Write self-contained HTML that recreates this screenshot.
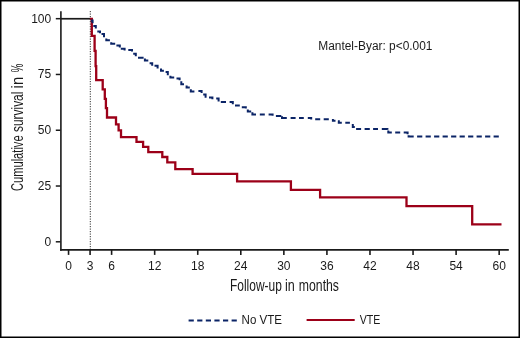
<!DOCTYPE html>
<html><head><meta charset="utf-8"><style>
html,body{margin:0;padding:0;background:#fff;}
svg{display:block;will-change:transform;}
.t{font-family:"Liberation Sans",sans-serif;font-size:12px;fill:#1a1a1a;}
.c{font-family:"Liberation Sans",sans-serif;font-size:15.6px;fill:#1a1a1a;}
.l{font-family:"Liberation Sans",sans-serif;font-size:12px;fill:#1a1a1a;}
</style></head><body>
<svg width="520" height="338" viewBox="0 0 520 338">
<rect x="0.75" y="0.75" width="518.5" height="336.5" fill="#fff" stroke="#000" stroke-width="1.5"/>
<line x1="60.9" y1="11.2" x2="60.9" y2="250.7" stroke="#1a1a1a" stroke-width="1.6"/>
<line x1="60.1" y1="249.8" x2="508.8" y2="249.8" stroke="#1a1a1a" stroke-width="1.8"/>
<line x1="55.8" y1="18.68" x2="60.5" y2="18.68" stroke="#1a1a1a" stroke-width="1.5"/>
<text x="51.2" y="22.58" text-anchor="end" class="t">100</text>
<line x1="55.8" y1="74.46" x2="60.5" y2="74.46" stroke="#1a1a1a" stroke-width="1.5"/>
<text x="51.2" y="78.36" text-anchor="end" class="t">75</text>
<line x1="55.8" y1="130.24" x2="60.5" y2="130.24" stroke="#1a1a1a" stroke-width="1.5"/>
<text x="51.2" y="134.14" text-anchor="end" class="t">50</text>
<line x1="55.8" y1="186.02" x2="60.5" y2="186.02" stroke="#1a1a1a" stroke-width="1.5"/>
<text x="51.2" y="189.92" text-anchor="end" class="t">25</text>
<line x1="55.8" y1="241.80" x2="60.5" y2="241.80" stroke="#1a1a1a" stroke-width="1.5"/>
<text x="51.2" y="245.70" text-anchor="end" class="t">0</text>
<line x1="68.55" y1="249.8" x2="68.55" y2="254.9" stroke="#1a1a1a" stroke-width="1.6"/>
<text x="68.55" y="269.8" text-anchor="middle" class="t">0</text>
<line x1="90.08" y1="249.8" x2="90.08" y2="254.9" stroke="#1a1a1a" stroke-width="1.6"/>
<text x="90.08" y="269.8" text-anchor="middle" class="t">3</text>
<line x1="111.61" y1="249.8" x2="111.61" y2="254.9" stroke="#1a1a1a" stroke-width="1.6"/>
<text x="111.61" y="269.8" text-anchor="middle" class="t">6</text>
<line x1="154.67" y1="249.8" x2="154.67" y2="254.9" stroke="#1a1a1a" stroke-width="1.6"/>
<text x="154.67" y="269.8" text-anchor="middle" class="t">12</text>
<line x1="197.74" y1="249.8" x2="197.74" y2="254.9" stroke="#1a1a1a" stroke-width="1.6"/>
<text x="197.74" y="269.8" text-anchor="middle" class="t">18</text>
<line x1="240.80" y1="249.8" x2="240.80" y2="254.9" stroke="#1a1a1a" stroke-width="1.6"/>
<text x="240.80" y="269.8" text-anchor="middle" class="t">24</text>
<line x1="283.86" y1="249.8" x2="283.86" y2="254.9" stroke="#1a1a1a" stroke-width="1.6"/>
<text x="283.86" y="269.8" text-anchor="middle" class="t">30</text>
<line x1="326.92" y1="249.8" x2="326.92" y2="254.9" stroke="#1a1a1a" stroke-width="1.6"/>
<text x="326.92" y="269.8" text-anchor="middle" class="t">36</text>
<line x1="369.98" y1="249.8" x2="369.98" y2="254.9" stroke="#1a1a1a" stroke-width="1.6"/>
<text x="369.98" y="269.8" text-anchor="middle" class="t">42</text>
<line x1="413.05" y1="249.8" x2="413.05" y2="254.9" stroke="#1a1a1a" stroke-width="1.6"/>
<text x="413.05" y="269.8" text-anchor="middle" class="t">48</text>
<line x1="456.11" y1="249.8" x2="456.11" y2="254.9" stroke="#1a1a1a" stroke-width="1.6"/>
<text x="456.11" y="269.8" text-anchor="middle" class="t">54</text>
<line x1="499.17" y1="249.8" x2="499.17" y2="254.9" stroke="#1a1a1a" stroke-width="1.6"/>
<text x="499.17" y="269.8" text-anchor="middle" class="t">60</text>
<line x1="90.3" y1="11" x2="90.3" y2="249" stroke="#333" stroke-width="1" stroke-dasharray="1.2 1.3"/>
<line x1="60.5" y1="18.75" x2="90" y2="18.75" stroke="#1a1a1a" stroke-width="1.7"/>
<path d="M89.6 18.7 H91.5 V35.5 H94.3 V50.5 H95.3 V65.9 H95.9 V79.8 H102.4 V89.1 H104.5 V98.5 H105.6 V107.8 H106.7 V117.2 H115.7 V124.1 H118.3 V130.1 H120.7 V136.9 H136.2 V141.6 H142.8 V146.5 H148.0 V151.8 H162.0 V156.7 H167.0 V162.1 H175.0 V168.8 H192.3 V173.6 H236.8 V181.0 H290.6 V189.6 H319.8 V197.1 H406.2 V205.9 H471.9 V224.1 H501.2" fill="none" stroke="#9c0018" stroke-width="2.3" transform="translate(0.3 0.3)"/>
<path d="M90.9 20.4 H92.6 V23.2 M93.3 26 H95.8 V28.6 M97.3 31.6 H100 V33.3 M101.5 33.9 H104 V37.2 M106.3 38.6 V40.3 H109.9 M111.2 42.2 V43.8 H115.2 M116.4 45.6 H119.8 V47.5 M120.8 48.7 H124.6 V50.4 M128.3 50 H132 V51.6 M133.2 53.8 H135.8 V56.2 M138 57.8 H142.6 V58.8 M144.9 58.5 V60.6 H148.3 M149.6 63.2 H152.2 V65.8 M154.5 65.8 H157.6 V68.6 M161 68.5 V70.8 H163.9 M165.6 72 H167.8 V75.2 M170.4 75.8 V77.4 H174.2 M176.5 78.4 H179.6 V80.3 M181.3 81.3 V84.3 H184 M186.6 85.4 V87.5 H189.8 M190.8 89.2 V91.5 H194.4 M198.4 91 H201.6 V93 M203.2 94.4 H205.6 V97.8 M209 97.6 H212.4 V99.2 M216.2 98.6 H218.6 V101.6 M220.8 101.9 H226 M229.6 101.9 H232.8 V104.2 M235 105.6 H239.8 M241.8 107.2 H245.8 V108.6 M247.8 109.4 V111.4 H251.2 M252.4 112.2 V114.5 H256 M259.8 114.6 H264.8 M268.6 114.6 H272.6 V115.8 M275.9 115.9 H281.3 M282 116.2 V118.1 H286.8 M290.6 118.1 H295.6 M299 118.1 H303.8 M307.8 118.1 H311.2 V119.4 M315.2 119.2 H320.2 M323.7 119.2 H328.8 M332.9 119.1 V120.7 H335.5 M337.9 121.2 H338.8 V122.7 H341.8 M345.3 122.8 H349.9 M352.8 124.1 V127 H354.8 M356.1 129.1 H361.1 M364.6 129.1 H369.8 M373.1 129.1 H378 M381.8 129.1 H387.4 V129.8 M388.3 130.6 V132.5 H391.8 M395.2 132.5 H400.2 M403.7 132.6 H407.6 V134.3 M408.6 135.2 V136.5 H413.7 M417.10 136.5 H422.30 M425.60 136.5 H430.80 M434.10 136.5 H439.30 M442.60 136.5 H447.80 M451.10 136.5 H456.30 M459.60 136.5 H464.80 M468.10 136.5 H473.30 M476.60 136.5 H481.80 M485.10 136.5 H490.30 M493.60 136.5 H498.80" fill="none" stroke="#0b2466" stroke-width="2"/>
<text x="318.25" y="50" class="t" textLength="114.25" lengthAdjust="spacingAndGlyphs">Mantel-Byar: p&lt;0.001</text>
<text x="230.00" y="290.6" class="c" textLength="51.80" lengthAdjust="spacingAndGlyphs">Follow-up</text>
<text x="285.00" y="290.6" class="c" textLength="9.80" lengthAdjust="spacingAndGlyphs">in</text>
<text x="298.80" y="290.6" class="c" textLength="40.20" lengthAdjust="spacingAndGlyphs">months</text>
<text transform="translate(22.6 191) rotate(-90)" x="0.00" y="0" class="c" textLength="55.60" lengthAdjust="spacingAndGlyphs">Cumulative</text>
<text transform="translate(22.6 191) rotate(-90)" x="59.00" y="0" class="c" textLength="40.40" lengthAdjust="spacingAndGlyphs">survival</text>
<text transform="translate(22.6 191) rotate(-90)" x="102.60" y="0" class="c" textLength="11.60" lengthAdjust="spacingAndGlyphs">in</text>
<text transform="translate(22.6 191) rotate(-90)" x="118.80" y="0" class="c" textLength="8.60" lengthAdjust="spacingAndGlyphs">%</text>
<line x1="188.6" y1="320.4" x2="237" y2="320.4" stroke="#0b2466" stroke-width="2" stroke-dasharray="5.2 3.4"/>
<text x="241.6" y="323.8" class="l" textLength="40.4" lengthAdjust="spacingAndGlyphs">No VTE</text>
<line x1="306.6" y1="320.1" x2="354.7" y2="320.1" stroke="#9c0018" stroke-width="2"/>
<text x="359.7" y="323.8" class="l" textLength="20.6" lengthAdjust="spacingAndGlyphs">VTE</text>
</svg>
</body></html>
